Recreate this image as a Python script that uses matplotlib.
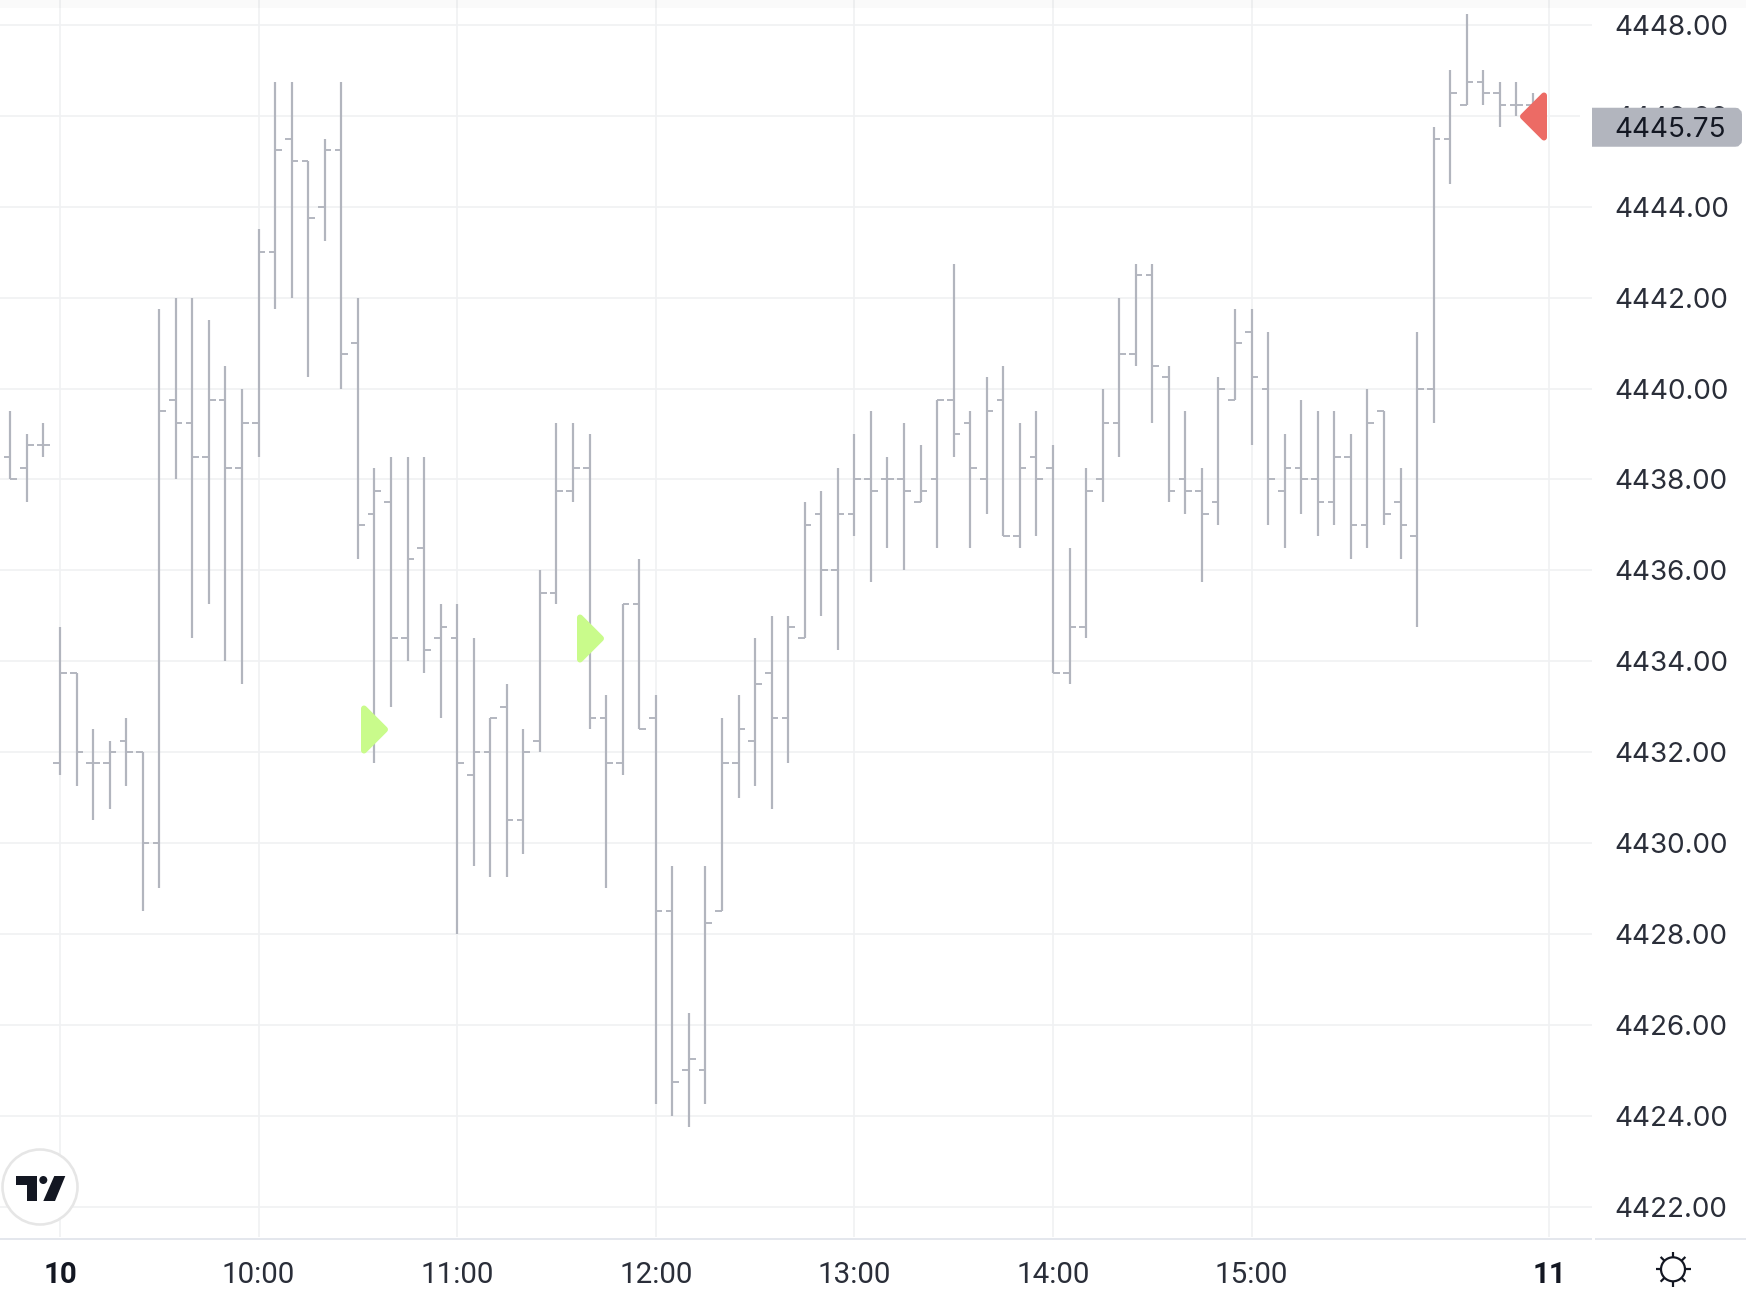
import matplotlib
matplotlib.use('Agg')
import matplotlib.pyplot as plt
from matplotlib.markers import MarkerStyle
from matplotlib.patches import Circle, FancyBboxPatch, Polygon
from matplotlib.path import Path
import numpy as np

# 5 minute bars, first one sits just off the left edge
bar_index = list(range(-4, 90))

opens = [4438.5, 4438.5, 4438.25, 4438.75,
         4431.75, 4433.75, 4431.75, 4431.75, 4432.25, 4432, 4430, 4439.75, 4439.25, 4438.5, 4439.75, 4438.25,
         4439.25, 4443, 4445.5, 4445, 4444, 4445.25, 4441, 4437.25, 4437.5, 4434.5, 4436.5, 4434.5,
         4434.5, 4431.5, 4432, 4433, 4430.5, 4432.25, 4435.5, 4437.75, 4438.25, 4432.75, 4431.75, 4435.25,
         4432.75, 4428.5, 4425, 4425, 4428.5, 4431.75, 4432.25, 4433.75, 4432.75, 4434.5, 4437.25, 4436,
         4437.25, 4438, 4438, 4438, 4437.5, 4438, 4439.75, 4439.25, 4438, 4439.75, 4436.75, 4438.5,
         4438.25, 4433.75, 4434.75, 4438, 4439.25, 4440.75, 4442.5, 4440.25, 4438, 4437.75, 4437.5, 4439.75,
         4441.25, 4440, 4437.75, 4438.25, 4438, 4437.5, 4438.5, 4437, 4439.5, 4437.5, 4436.75, 4440,
         4445.5, 4446.25, 4446.75, 4446.5, 4446.25, 4446.25]
highs = [4438.75, 4439.5, 4439, 4439.25,
         4434.75, 4433.75, 4432.5, 4432.25, 4432.75, 4432, 4441.75, 4442, 4442, 4441.5, 4440.5, 4440,
         4443.5, 4446.75, 4446.75, 4445, 4445.5, 4446.75, 4442, 4438.25, 4438.5, 4438.5, 4438.5, 4435.25,
         4435.25, 4434.5, 4432.75, 4433.5, 4432.5, 4436, 4439.25, 4439.25, 4439, 4433.25, 4435.25, 4436.25,
         4433.25, 4429.5, 4426.25, 4429.5, 4432.75, 4433.25, 4434.5, 4435, 4435, 4437.5, 4437.75, 4438.25,
         4439, 4439.5, 4438.5, 4439.25, 4438.75, 4439.75, 4442.75, 4439.5, 4440.25, 4440.5, 4439.25, 4439.5,
         4438.75, 4436.5, 4438.25, 4440, 4442, 4442.75, 4442.75, 4440.5, 4439.5, 4438.25, 4440.25, 4441.75,
         4441.75, 4441.25, 4439, 4439.75, 4439.5, 4439.5, 4439, 4440, 4439.5, 4438.25, 4441.25, 4445.75,
         4447, 4448.25, 4447, 4446.75, 4446.75, 4446.5]
lows = [4438.25, 4438, 4437.5, 4438.5,
        4431.5, 4431.25, 4430.5, 4430.75, 4431.25, 4428.5, 4429, 4438, 4434.5, 4435.25, 4434, 4433.5,
        4438.5, 4441.75, 4442, 4440.25, 4443.25, 4440, 4436.25, 4431.75, 4433, 4434, 4433.75, 4432.75,
        4428, 4429.5, 4429.25, 4429.25, 4429.75, 4432, 4435.25, 4437.5, 4432.5, 4429, 4431.5, 4432.5,
        4424.25, 4424, 4423.75, 4424.25, 4428.5, 4431, 4431.25, 4430.75, 4431.75, 4434.5, 4435, 4434.25,
        4436.75, 4435.75, 4436.5, 4436, 4437.5, 4436.5, 4438.5, 4436.5, 4437.25, 4436.75, 4436.5, 4436.75,
        4433.75, 4433.5, 4434.5, 4437.5, 4438.5, 4440.5, 4439.25, 4437.5, 4437.25, 4435.75, 4437, 4439.75,
        4438.75, 4437, 4436.5, 4437.25, 4436.75, 4437, 4436.25, 4436.5, 4437, 4436.25, 4434.75, 4439.25,
        4444.5, 4446.25, 4446.25, 4445.75, 4446, 4445.75]
closes = [4438.5, 4438, 4438.75, 4438.75,
          4433.75, 4432, 4431.75, 4432, 4432, 4430, 4439.5, 4439.25, 4438.5, 4439.75, 4438.25, 4439.25,
          4443, 4445.25, 4445, 4443.75, 4445.25, 4440.75, 4437, 4437.75, 4434.5, 4436.25, 4434.25, 4434.75,
          4431.75, 4432, 4432.75, 4430.5, 4432, 4435.5, 4437.75, 4438.25, 4432.75, 4431.75, 4435.25, 4432.5,
          4428.5, 4424.75, 4425.25, 4428.25, 4431.75, 4432.5, 4433.5, 4432.75, 4434.75, 4437, 4436, 4437.25,
          4438, 4437.75, 4438, 4437.75, 4437.75, 4439.75, 4439, 4438.25, 4439.5, 4436.75, 4438.25, 4438,
          4433.75, 4434.75, 4437.75, 4439.25, 4440.75, 4442.5, 4440.5, 4437.75, 4437.75, 4437.25, 4440, 4441,
          4440.25, 4438, 4438.25, 4438, 4437.5, 4438.5, 4437, 4439.25, 4437.25, 4437, 4440, 4445.5,
          4446.5, 4446.75, 4446.5, 4446.25, 4446.25, 4445.75]

# signals: bar index and price
buy_bars = [19, 32]
buy_prices = [4432.5, 4434.5]
sell_bars = [89]
sell_prices = [4446]

last_price = 4445.75
price_ticks = list(range(4422, 4450, 2))
time_ticks = [0, 12, 24, 36, 48, 60, 72, 90]
time_labels = ['10', '10:00', '11:00', '12:00', '13:00', '14:00', '15:00', '11']

W, H = 1746, 1302
PLOT_RIGHT = 1592
PLOT_BOTTOM = 1237
BAR_COLOR = '#b2b5be'
GRID_COLOR = '#f0f1f3'
TEXT_COLOR = '#2a2e39'
DARK = '#131722'
PT = 72 / 100  # one pixel in points at dpi 100
FONT_PX = 27.8

plt.rcParams['font.family'] = ['Inter', 'DejaVu Sans']

fig = plt.figure(figsize=(W / 100, H / 100), dpi=100)
ax = fig.add_axes([0, 1 - PLOT_BOTTOM / H, PLOT_RIGHT / W, PLOT_BOTTOM / H])
ax.set_xlim(-3.625, 92.57)
ax.set_ylim(4421.33, 4448.55)
for spine in ax.spines.values():
    spine.set_visible(False)

ax.set_yticks(price_ticks)
ax.set_yticklabels(['%.2f' % p for p in price_ticks])
ax.yaxis.tick_right()
ax.tick_params(axis='y', length=0, pad=22 * PT, labelsize=FONT_PX * PT, labelcolor=TEXT_COLOR)
ax.set_xticks(time_ticks)
ax.set_xticklabels(time_labels)
ax.tick_params(axis='x', length=0, pad=24 * PT, labelsize=29.5 * PT, labelcolor=TEXT_COLOR)
# Roboto digits are all one width, the Inter 1 came out too narrow here
for lab, text in zip(ax.get_xticklabels(), time_labels):
    lab.set_fontfamily(['Roboto', 'DejaVu Sans'])
    if ':' not in text:
        lab.set_fontweight('bold')
        lab.set_color(DARK)
ax.grid(True, color=GRID_COLOR, linewidth=1.7 * PT)
ax.set_axisbelow(True)

xs = np.array(bar_index)
ax.vlines(xs, lows, highs, color=BAR_COLOR, linewidth=2.2 * PT, capstyle='butt', zorder=3)
ax.hlines(opens, xs - 0.4, xs, color=BAR_COLOR, linewidth=1.9 * PT, capstyle='butt', zorder=3)
ax.hlines(closes, xs, xs + 0.4, color=BAR_COLOR, linewidth=1.9 * PT, capstyle='butt', zorder=3)

# rounded arrows, stroke gives the round corners
right_tri = Path([(-0.5, -1), (0.5, 0), (-0.5, 1), (-0.5, -1)], closed=True)
left_tri = Path([(0.5, -1), (-0.5, 0), (0.5, 1), (0.5, -1)], closed=True)
ax.plot(buy_bars, buy_prices, ls='none', marker=MarkerStyle(right_tri, joinstyle='round'),
        ms=42 * PT, mew=6 * PT, color='#c9fb8b', zorder=4)
ax.plot(sell_bars, sell_prices, ls='none', marker=MarkerStyle(left_tri, joinstyle='round'),
        ms=42 * PT, mew=6 * PT, color='#ec6b65', zorder=4)

# everything outside the price scale goes on a pixel overlay
ov = fig.add_axes([0, 0, 1, 1])
ov.set_xlim(0, W)
ov.set_ylim(H, 0)
ov.axis('off')

# faint shade along the top edge
ov.axhspan(0, 8, color='black', alpha=0.02, lw=0)

ov.plot([0, PLOT_RIGHT], [1238.7, 1238.7], color='#e0e3eb', lw=1.7 * PT, solid_capstyle='butt')
ov.plot([PLOT_RIGHT + 2.5, W], [1238.7, 1238.7], color='#e0e3eb', lw=1.7 * PT, solid_capstyle='butt')

# last price tag
last_y = ov.transData.inverted().transform(ax.transData.transform((0, last_price)))[1]
ov.add_patch(FancyBboxPatch((PLOT_RIGHT - 6, last_y - 15.5), 152, 31,
                            boxstyle='round,pad=0,rounding_size=3', fc=BAR_COLOR, ec=BAR_COLOR, lw=8 * PT))
ov.add_patch(plt.Rectangle((PLOT_RIGHT - 12, last_y - 25), 12, 50, fc='white', ec='none'))
ov.text(1614, last_y, '%.2f' % last_price, fontsize=FONT_PX * PT, color=DARK, ha='left', va='center_baseline')

# logo
ov.add_patch(Circle((40, 1187), 37.5, fc='white', ec='#e6e6e6', lw=2.6 * PT))
ov.add_patch(Polygon([(16, 1176), (36.7, 1176), (36.7, 1201), (26.7, 1201), (26.7, 1185), (16, 1185)],
                     fc=DARK, ec='none'))
ov.add_patch(Circle((43.3, 1180), 4, fc=DARK, ec='none'))
ov.add_patch(Polygon([(54.3, 1176), (65.3, 1176), (55, 1201), (43.3, 1201)], fc=DARK, ec='none'))

# settings icon
sun_x, sun_y = 1673, 1269.3
ov.add_patch(Circle((sun_x, sun_y), 12, fc='none', ec=DARK, lw=2.2 * PT))
for ang in np.deg2rad(range(0, 360, 45)):
    ov.plot([sun_x + 12 * np.cos(ang), sun_x + 17.5 * np.cos(ang)],
            [sun_y + 12 * np.sin(ang), sun_y + 17.5 * np.sin(ang)],
            color=DARK, lw=2.2 * PT, solid_capstyle='butt')

fig.savefig('out.png', dpi=100, facecolor='white')
plt.close()
